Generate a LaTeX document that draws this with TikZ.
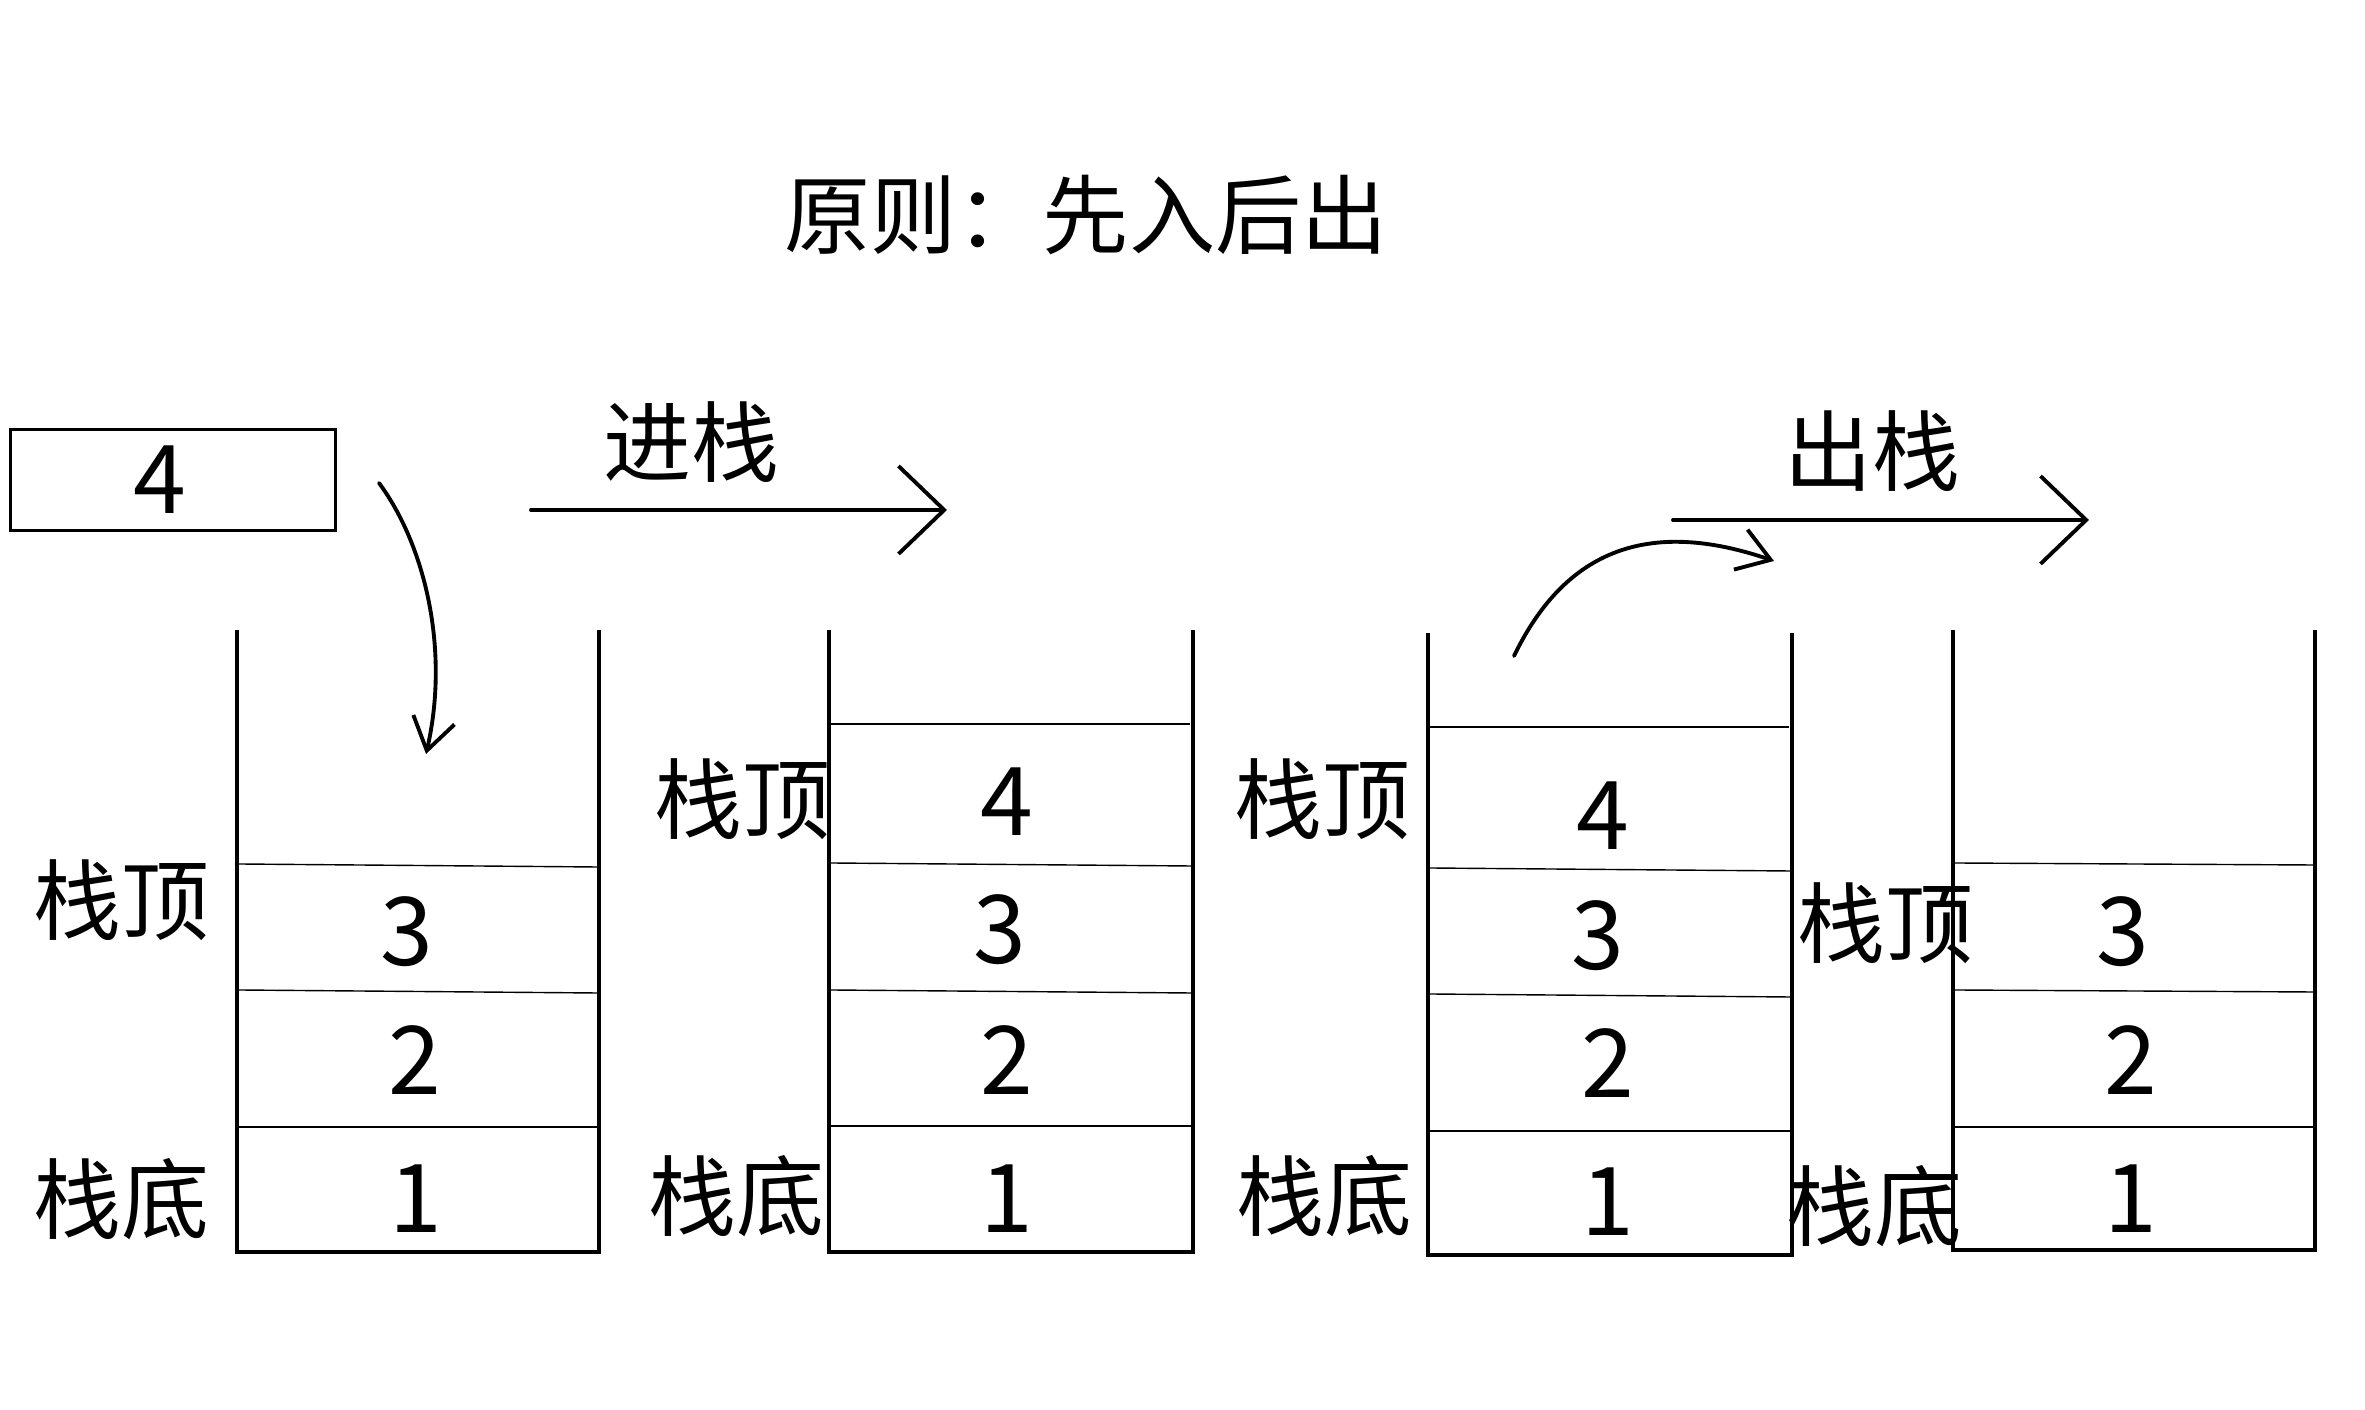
\documentclass[tikz,border=0pt]{standalone}
\usepackage{fontspec}
\setmainfont{Noto Sans CJK SC}
\usetikzlibrary{arrows.meta}
\begin{document}
\begin{tikzpicture}[x=0.01cm,y=-0.01cm,
  wall/.style={line width=0.9pt, line join=miter},
  cell/.style={line width=0.4pt},
  num/.style={font=\fontsize{27}{30}\selectfont, inner sep=0pt},
  lab/.style={font=\fontsize{25}{28}\selectfont, inner sep=0pt},
  ttl/.style={font=\fontsize{24.5}{28}\selectfont, inner sep=0pt},
  arr/.style={line width=1.1pt, line cap=round, line join=round},
  bigtip/.style={-{Straight Barb[length=13pt,width=25pt,line width=1.1pt]}},
  smalltip/.style={-{Straight Barb[length=9pt,width=12pt,line width=1.1pt]}}]
\useasboundingbox (0,0) rectangle (2365,1410);
\fill[white] (0,0) rectangle (2365,1410);

% title
\node[ttl] (title) at (1086,215) {原则：先入后出};

% element box
\node[draw, line width=0.9pt, minimum width=3.24cm, minimum height=1.01cm, inner sep=0pt] (box) at (173,480) {};
\node[num] (b4) at (160,480) {4};

% stack 1
\draw[wall] (237,630) -- (237,1252) -- (599,1252) -- (599,630);
\draw[cell] (239,864) -- (597,867);
\draw[cell] (239,990) -- (597,993);
\draw[cell] (239,1127) -- (597,1127);
\node[num] (s1c3) at (407,932) {3};
\node[num] (s1c2) at (415,1060) {2};
\node[num] (s1c1) at (416,1199) {1};
\node[lab] (s1top) at (121,900) {栈顶};
\node[lab] (s1bot) at (121,1199) {栈底};

% stack 2
\draw[wall] (829,630) -- (829,1252) -- (1193,1252) -- (1193,630);
\draw[cell] (831,724) -- (1190,724);
\draw[cell] (831,863) -- (1191,866);
\draw[cell] (831,990) -- (1191,993);
\draw[cell] (831,1126) -- (1191,1126);
\node[num] (s2c4) at (1007,802) {4};
\node[num] (s2c3) at (1000,930) {3};
\node[num] (s2c2) at (1007,1060) {2};
\node[num] (s2c1) at (1007,1199) {1};
\node[lab] (s2top) at (742,799) {栈顶};
\node[lab] (s2bot) at (736,1196) {栈底};

% stack 3
\draw[wall] (1428,633) -- (1428,1255) -- (1792,1255) -- (1792,633);
\draw[cell] (1430,727) -- (1789,727);
\draw[cell] (1430,868) -- (1790,871);
\draw[cell] (1430,994) -- (1790,997);
\draw[cell] (1430,1131) -- (1790,1131);
\node[num] (s3c4) at (1603,816) {4};
\node[num] (s3c3) at (1598,936) {3};
\node[num] (s3c2) at (1608,1063) {2};
\node[num] (s3c1) at (1608,1202) {1};
\node[lab] (s3top) at (1322,799) {栈顶};
\node[lab] (s3bot) at (1324,1196) {栈底};

% stack 4
\draw[wall] (1953,630) -- (1953,1250) -- (2315,1250) -- (2315,630);
\draw[cell] (1955,863) -- (2313,865);
\draw[cell] (1955,990) -- (2313,992);
\draw[cell] (1955,1127) -- (2313,1127);
\node[num] (s4c3) at (2123,932) {3};
\node[num] (s4c2) at (2131,1060) {2};
\node[num] (s4c1) at (2131,1199) {1};
\node[lab] (s4top) at (1885,923) {栈顶};
\node[lab] (s4bot) at (1874,1206) {栈底};

% push arrow
\node[lab] (push) at (691,442) {进栈};
\coordinate (pushA) at (531,510);
\coordinate (pushB) at (947,510);
\draw[arr, bigtip] (pushA) -- (pushB);

% pop arrow
\node[lab] (pop) at (1872,451) {出栈};
\coordinate (popA) at (1673,520);
\coordinate (popB) at (2089,520);
\draw[arr, bigtip] (popA) -- (popB);

% curved arrow: element into stack
\coordinate (inA) at (379,483);
\coordinate (inB) at (426,754);
\draw[arr, smalltip] (inA) .. controls (425,545) and (450,650) .. (inB);

% curved arrow: out of stack
\coordinate (outA) at (1514,656);
\coordinate (outB) at (1774,561);
\draw[arr, smalltip] (outA) .. controls (1570,540) and (1660,522) .. (outB);
\end{tikzpicture}
\end{document}
